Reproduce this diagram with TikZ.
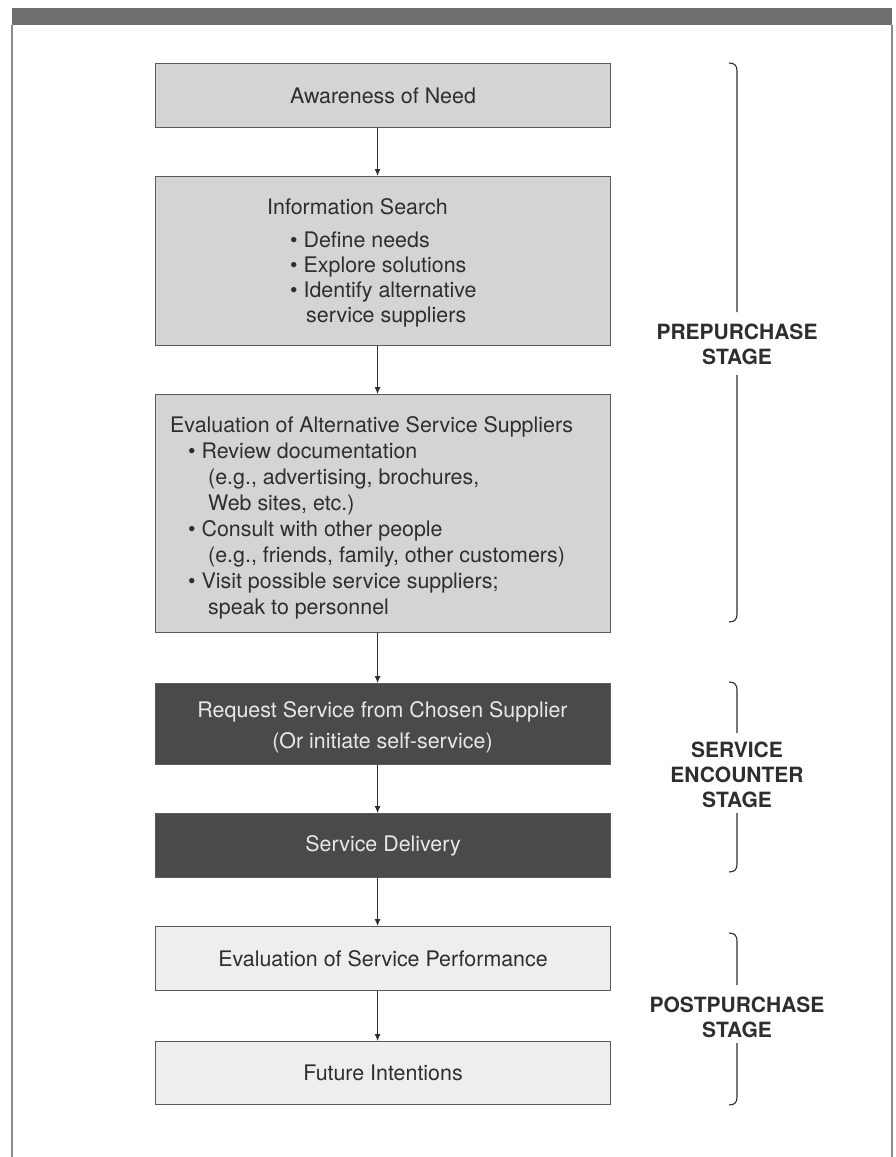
\documentclass[tikz,border=0pt]{standalone}
\usepackage{fontspec}
\setmainfont{TeX Gyre Heros}
\usetikzlibrary{arrows.meta}

\definecolor{ink}{HTML}{2E2E2E}
\definecolor{edge}{HTML}{5A5A5A}
\definecolor{midfill}{HTML}{D4D4D4}
\definecolor{darkfill}{HTML}{4A4A4A}
\definecolor{lightfill}{HTML}{EEEEEE}
\definecolor{barfill}{HTML}{6E6E6E}
\definecolor{framegray}{HTML}{8A8A8A}
\definecolor{paletext}{HTML}{E8E8E8}

\begin{document}
\begin{tikzpicture}[x=1pt,y=-1pt,
  stagebox/.style={draw=edge, line width=1.1pt, minimum width=455pt,
                   inner sep=0pt, anchor=north west, rectangle},
  prebox/.style={stagebox, fill=midfill},
  encbox/.style={stagebox, fill=darkfill},
  postbox/.style={stagebox, fill=lightfill},
  body/.style={font=\fontsize{21.4}{25}\selectfont, text=ink, inner sep=0pt, align=left},
  centred/.style={body, align=center},
  onDark/.style={centred, text=paletext, font=\fontsize{21.4}{31}\selectfont},
  stagelabel/.style={font=\fontsize{21}{25}\selectfont\bfseries, text=ink,
                     inner sep=0pt, align=center},
  flow/.style={draw=ink, line width=0.9pt, -{Latex[length=7pt,width=6pt]}},
  bracket/.style={draw=ink, line width=1.1pt}
]

% page and frame
\fill[white] (0,0) rectangle (896,1157);
\useasboundingbox (0,0) rectangle (896,1157);
\fill[barfill] (12,8) rectangle (892,25);
\draw[framegray, line width=1.6pt] (12,25) -- (12,1157);
\draw[framegray, line width=1.6pt] (892,25) -- (892,1157);

% prepurchase boxes
\node[prebox, minimum height=64pt]  (b1) at (155,63)  {};
\node[prebox, minimum height=169pt] (b2) at (155,176) {};
\node[prebox, minimum height=238pt] (b3) at (155,394) {};

% service encounter boxes
\node[encbox, minimum height=81pt] (b4) at (155,683) {};
\node[encbox, minimum height=64pt] (b5) at (155,813) {};

% postpurchase boxes
\node[postbox, minimum height=64pt] (b6) at (155,926)  {};
\node[postbox, minimum height=63pt] (b7) at (155,1041) {};

% box texts
\node[centred] (t1) at (b1.center) {Awareness of Need};

\node[body, anchor=west] (t2) at (267,263) {Information Search\\[8pt]
\hspace*{23pt}\textbullet\ Define needs\\
\hspace*{23pt}\textbullet\ Explore solutions\\
\hspace*{23pt}\textbullet\ Identify alternative\\
\hspace*{39pt}service suppliers};

\node[body, anchor=west, font=\fontsize{21.4}{26}\selectfont] (t3) at (170,518) {Evaluation of Alternative Service Suppliers\\
\hspace*{18pt}\textbullet\ Review documentation\\
\hspace*{38pt}(e.g., advertising, brochures,\\
\hspace*{38pt}Web sites, etc.)\\
\hspace*{18pt}\textbullet\ Consult with other people\\
\hspace*{38pt}(e.g., friends, family, other customers)\\
\hspace*{18pt}\textbullet\ Visit possible service suppliers;\\
\hspace*{38pt}speak to personnel};

\node[onDark] (t4) at (382.5,727) {Request Service from Chosen Supplier\\(Or initiate self-service)};
\node[onDark] (t5) at (b5.center) {Service Delivery};
\node[centred] (t6) at (b6.center) {Evaluation of Service Performance};
\node[centred] (t7) at (b7.center) {Future Intentions};

% flow arrows
\draw[flow] ([xshift=-5.5pt]b1.south) -- ([xshift=-5.5pt]b2.north);
\draw[flow] ([xshift=-5.5pt]b2.south) -- ([xshift=-5.5pt]b3.north);
\draw[flow] ([xshift=-5.5pt]b3.south) -- ([xshift=-5.5pt]b4.north);
\draw[flow] ([xshift=-5.5pt]b4.south) -- ([xshift=-5.5pt]b5.north);
\draw[flow] ([xshift=-5.5pt]b5.south) -- ([xshift=-5.5pt]b6.north);
\draw[flow] ([xshift=-5.5pt]b6.south) -- ([xshift=-5.5pt]b7.north);

% stage labels
\node[stagelabel] (s1) at (737,344) {PREPURCHASE\\STAGE};
\node[stagelabel] (s2) at (737,775) {SERVICE\\ENCOUNTER\\STAGE};
\node[stagelabel] (s3) at (737,1017) {POSTPURCHASE\\STAGE};

% stage brackets
\draw[bracket] (729,63) .. controls (735,63) and (737,66) .. (737,71) -- (737,312);
\draw[bracket] (737,375) -- (737,614) .. controls (737,619) and (735,622) .. (729,622);
\draw[bracket] (729,682) .. controls (735,682) and (737,685) .. (737,690) -- (737,733);
\draw[bracket] (737,813) -- (737,864) .. controls (737,869) and (735,872) .. (729,872);
\draw[bracket] (729,933) .. controls (735,933) and (737,936) .. (737,941) -- (737,985);
\draw[bracket] (737,1043) -- (737,1097) .. controls (737,1102) and (735,1105) .. (729,1105);

\end{tikzpicture}
\end{document}
